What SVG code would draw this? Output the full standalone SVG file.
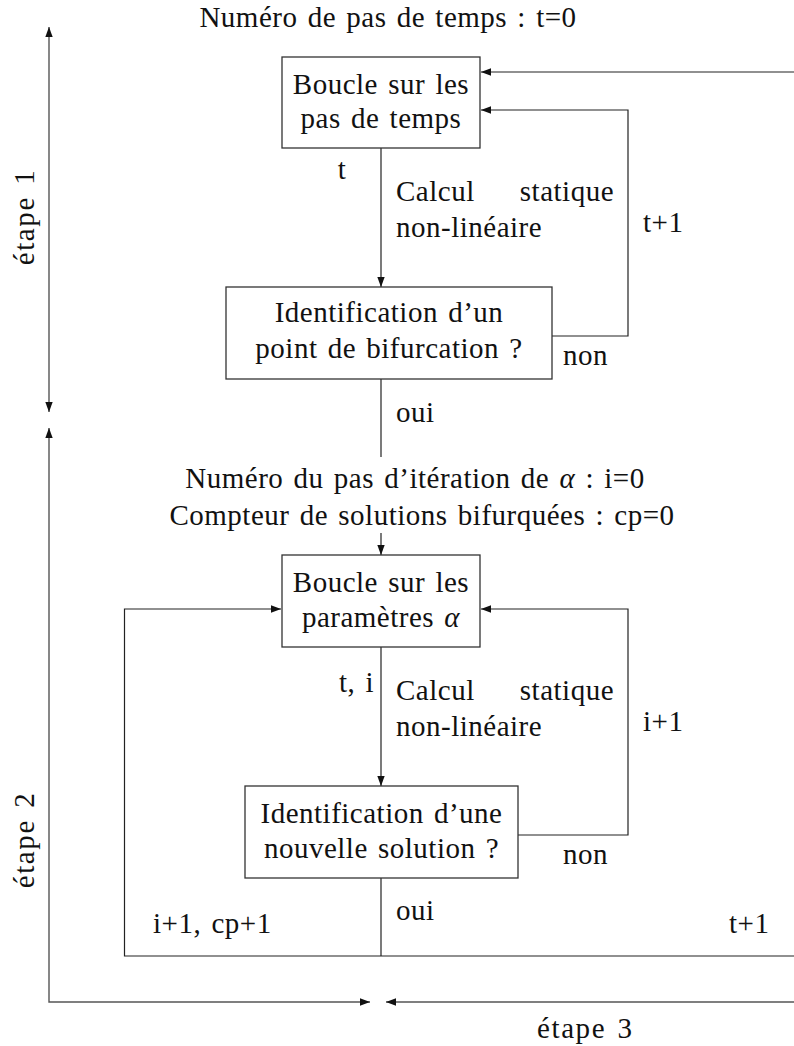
<svg xmlns="http://www.w3.org/2000/svg" width="794" height="1046" viewBox="0 0 794 1046">
<style>
text{font-family:'Liberation Serif','DejaVu Serif',serif;font-size:29px;fill:#111;letter-spacing:0.5px;word-spacing:2.5px}
.c{text-anchor:middle}
.e{text-anchor:end}
.st{letter-spacing:1.6px}
.box{fill:#fff;stroke:#333;stroke-width:1.3}
.ln{fill:none;stroke:#222;stroke-width:1.2}
.ax{fill:none;stroke:#555;stroke-width:1.4}
</style>
<defs>
<marker id="ah" markerUnits="userSpaceOnUse" markerWidth="12" markerHeight="10" refX="10" refY="4" orient="auto-start-reverse" viewBox="0 0 12 8">
<path d="M0,0.3 L10,4 L0,7.7 z" fill="#111"/>
</marker>
</defs>

<g id="connectors">
<path class="ax" d="M49,412 L49,27" marker-start="url(#ah)" marker-end="url(#ah)"/>
<path class="ax" d="M49,428 L49,1002 L370,1002" marker-start="url(#ah)" marker-end="url(#ah)"/>
<path class="ax" d="M794,1002 L386,1002" marker-end="url(#ah)"/>
<path class="ln" d="M794,72 L481,72" marker-end="url(#ah)"/>
<path class="ln" d="M381,148 L381,287" marker-end="url(#ah)"/>
<path class="ln" d="M552,336 L628,336 L628,110 L481,110" marker-end="url(#ah)"/>
<path class="ln" d="M381,379 L381,457"/>
<path class="ln" d="M381,533 L381,555" marker-end="url(#ah)"/>
<path class="ln" d="M381,647 L381,786" marker-end="url(#ah)"/>
<path class="ln" d="M518,835 L628,835 L628,609 L481,609" marker-end="url(#ah)"/>
<path class="ln" d="M381,878 L381,956"/>
<path class="ln" d="M794,956 L124.5,956 L124.5,609 L281,609" marker-end="url(#ah)"/>
</g>

<g id="labels">
<text class="c" x="388" y="27">Numéro de pas de temps : t=0</text>
<text class="c" x="342" y="179">t</text>
<text x="396" y="201">Calcul</text>
<text class="e" x="614" y="201">statique</text>
<text x="396" y="237">non-linéaire</text>
<text x="643" y="232">t+1</text>
<text x="563" y="365">non</text>
<text x="396" y="422">oui</text>
<text class="c" x="415" y="488">Numéro du pas d’itération de <tspan font-style="italic">α</tspan> : i=0</text>
<text class="c" x="422" y="525">Compteur de solutions bifurquées : cp=0</text>
<text class="e" x="374" y="692">t, i</text>
<text x="396" y="700">Calcul</text>
<text class="e" x="614" y="700">statique</text>
<text x="396" y="736">non-linéaire</text>
<text x="643" y="731">i+1</text>
<text x="563" y="864">non</text>
<text x="396" y="920">oui</text>
<text x="153" y="933">i+1, cp+1</text>
<text x="729" y="933">t+1</text>
<text class="st" x="537" y="1038">étape 3</text>
<text class="c st" transform="translate(34,217) rotate(-90)">étape 1</text>
<text class="c st" transform="translate(34,840) rotate(-90)">étape 2</text>
</g>

<g id="node-boucle-temps">
<rect class="box" x="282" y="57" width="198" height="91"/>
<text class="c" x="381" y="94">Boucle sur les</text>
<text class="c" x="381" y="128">pas de temps</text>
</g>

<g id="node-bifurcation">
<rect class="box" x="226" y="287" width="326" height="92"/>
<text class="c" x="389" y="322">Identification d’un</text>
<text class="c" x="389" y="358">point de bifurcation ?</text>
</g>

<g id="node-boucle-alpha">
<rect class="box" x="282" y="555" width="198" height="92"/>
<text class="c" x="381" y="592">Boucle sur les</text>
<text class="c" x="381" y="627">paramètres <tspan font-style="italic">α</tspan></text>
</g>

<g id="node-solution">
<rect class="box" x="245" y="786" width="273" height="92"/>
<text class="c" x="381.5" y="823">Identification d’une</text>
<text class="c" x="381.5" y="858">nouvelle solution ?</text>
</g>
</svg>
